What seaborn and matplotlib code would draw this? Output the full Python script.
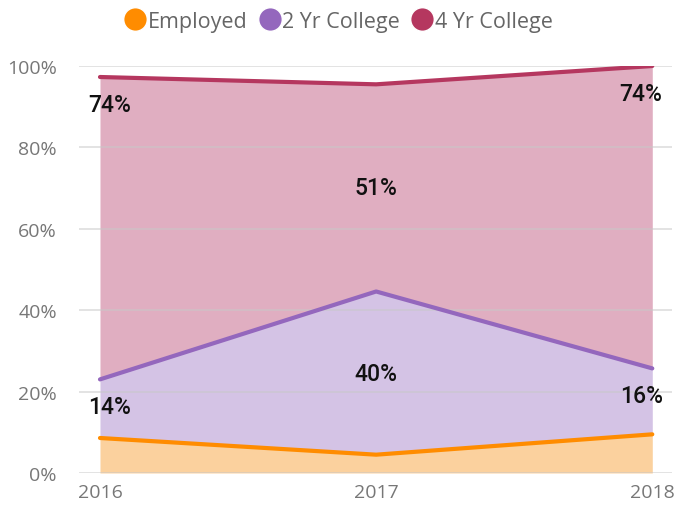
import numpy as np
import pandas as pd
import matplotlib
matplotlib.use("Agg")
import matplotlib.pyplot as plt
import seaborn as sns
from matplotlib.lines import Line2D

# values (percent of class)
years = [2016, 2017, 2018]
employed = [8.6, 4.5, 9.5]
two_yr = [14.4, 40.1, 16.2]
four_yr = [74.3, 50.9, 74.3]
two_yr_labels = ["14%", "40%", "16%"]
four_yr_labels = ["74%", "51%", "74%"]

names = ["Employed", "2 Yr College", "4 Yr College"]
line_colors = ["#FF8C00", "#9467BD", "#B5375F"]
fill_colors = ["#FBD19E", "#D4C3E5", "#E0AEC1"]

df = pd.DataFrame({"year": years, "Employed": employed,
                   "2 Yr College": two_yr, "4 Yr College": four_yr})
tops = df[names].cumsum(axis=1)
bottoms = tops - df[names]

sns.set_style("white")
plt.rcParams["font.family"] = ["Open Sans", "DejaVu Sans"]

fig = plt.figure(figsize=(6.75, 5.1), dpi=100)
ax = fig.add_axes([0.117, 0.0706, 0.879, 0.798])

for i, n in enumerate(names):
    ax.fill_between(df["year"], bottoms[n], tops[n], color=fill_colors[i],
                    lw=0, zorder=1)
    sns.lineplot(x=df["year"], y=tops[n], color=line_colors[i], lw=3,
                 ax=ax, zorder=3, solid_capstyle="round")

for y in range(0, 101, 20):
    ax.axhline(y, color="#c8c8c8", lw=1.2, alpha=0.6, zorder=2)

# data labels
lab_font = dict(fontsize=16.5, color="#111111", ha="center", va="center",
                family=["Roboto", "DejaVu Sans"], fontweight="medium")
for j, yr in enumerate(years):
    for n, labs in [("2 Yr College", two_yr_labels), ("4 Yr College", four_yr_labels)]:
        if j == 1:
            ypos = (tops[n][j] + bottoms[n][j]) / 2
            dx = 0
        else:
            ypos = tops[n][j] - 6.7
            dx = 7 if j == 0 else -8
        ax.annotate(labs[j], (yr, ypos), xytext=(dx, 0),
                    textcoords="offset points", **lab_font)

ax.set_xlim(2016 - 21 / 276, 2018 + 20 / 276)
ax.set_ylim(0, 100)
ax.set_xticks(years)
ax.set_xticklabels([str(y) for y in years])
ax.set_yticks(range(0, 101, 20))
ax.set_yticklabels([f"{y}%" for y in range(0, 101, 20)])
ax.tick_params(axis="both", labelsize=14, labelcolor="#777777", length=0)
ax.tick_params(axis="y", pad=16)
ax.tick_params(axis="x", pad=7)
ax.set_xlabel("")
ax.set_ylabel("")
sns.despine(ax=ax, left=True, bottom=True)

handles = [Line2D([0], [0], marker="o", color="w", markerfacecolor=c,
                  markersize=17, lw=0) for c in line_colors]
fig.legend(handles, names, loc="upper center", bbox_to_anchor=(0.5, 1.015),
           ncol=3, frameon=False, fontsize=15.5, labelcolor="#666666",
           handletextpad=0.0, columnspacing=0.4, handlelength=1.2)

fig.savefig("out.png", dpi=100)
